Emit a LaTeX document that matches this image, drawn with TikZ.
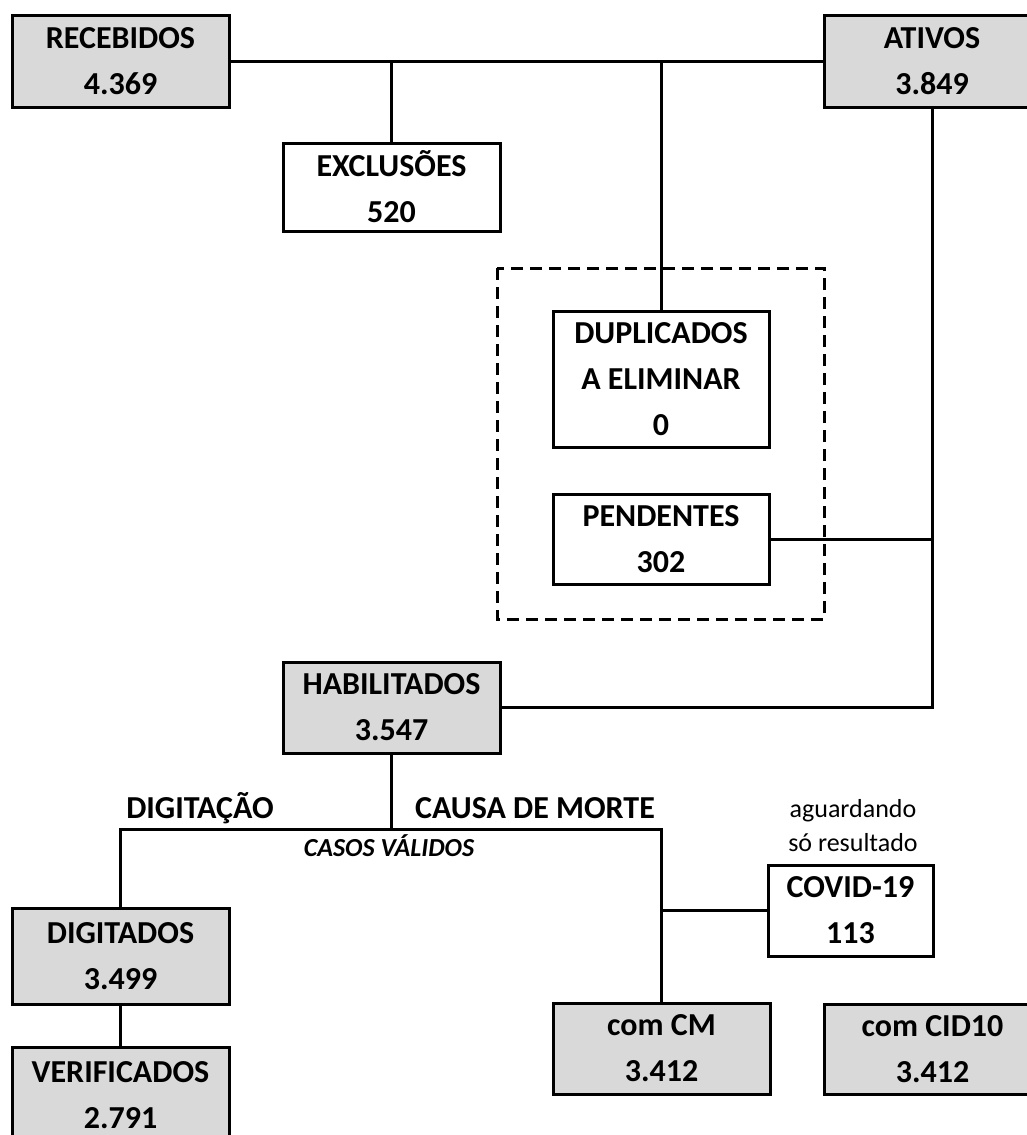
\documentclass[tikz,border=0pt]{standalone}
\usepackage{fontspec}
\setmainfont{Carlito}
\definecolor{boxgray}{HTML}{D9D9D9}
\tikzset{
  box/.style={draw, line width=3pt, inner sep=0pt, align=center,
    font=\bfseries\fontsize{32}{46}\selectfont},
  grey/.style={fill=boxgray},
  conn/.style={line width=3pt},
  lbl/.style={inner sep=0pt, anchor=base, font=\bfseries\fontsize{32}{46}\selectfont},
  note/.style={inner sep=0pt, align=center, font=\fontsize{26}{34}\selectfont},
}
\begin{document}
\begin{tikzpicture}[x=1pt,y=-1pt]
\useasboundingbox (0,0) rectangle (1027,1135);
% boxes
\node[box,grey,minimum width=217pt,minimum height=92pt] (rec) at (120.5,61) {RECEBIDOS\\4.369};
\node[box,grey,minimum width=216pt,minimum height=92pt] (ativ) at (932,61) {ATIVOS\\3.849};
\node[box,minimum width=217pt,minimum height=88pt] (exc) at (391.5,187) {EXCLUSÕES\\520};
\draw[line width=3pt, dash pattern=on 12pt off 7pt] (497,268) rectangle (824,619);
\node[box,minimum width=216pt,minimum height=136pt] (dup) at (661,379) {DUPLICADOS\\A ELIMINAR\\0};
\node[box,minimum width=216pt,minimum height=90pt] (pen) at (661,539) {PENDENTES\\302};
\node[box,grey,minimum width=217pt,minimum height=91pt] (hab) at (391.5,707.5) {HABILITADOS\\3.547};
\node[box,grey,minimum width=217pt,minimum height=96pt] (dig) at (120.5,956) {DIGITADOS\\3.499};
\node[box,grey,minimum width=217pt,minimum height=96pt] (ver) at (120.5,1095) {VERIFICADOS\\2.791};
\node[box,grey,minimum width=217pt,minimum height=91pt] (comcm) at (661.5,1048.5) {com CM\\3.412};
\node[box,minimum width=165pt,minimum height=91pt] (covid) at (850.5,910.5) {COVID-19\\113};
\node[box,grey,minimum width=217pt,minimum height=90pt] (cid) at (932.5,1049) {com CID10\\3.412};
% labels
\node[lbl] (ldig) at (200,818) {DIGITAÇÃO};
\node[lbl] (lcausa) at (535,818) {CAUSA DE MORTE};
\node[lbl,font=\bfseries\itshape\fontsize{26}{34}\selectfont] (lcasos) at (389,856) {CASOS VÁLIDOS};
\node[note] (lagu) at (853,826) {aguardando\\só resultado};
% connectors
\coordinate (split) at (391.5,829);
\draw[conn] (rec.east) -- (ativ.west);
\draw[conn] (exc.north) -- (exc.north |- rec.east);
\draw[conn] (dup.north) -- (dup.north |- rec.east);
\draw[conn] (ativ.south) -- (ativ.south |- hab.east) -- (hab.east);
\draw[conn] (pen.east) -- (pen.east -| ativ.south);
\draw[conn] (hab.south) -- (split);
\draw[conn] (dig.north) |- (split);
\draw[conn] (split) -| (comcm.north);
\draw[conn] (covid.west) -- (covid.west -| comcm.north);
\draw[conn] (dig.south) -- (ver.north);
\end{tikzpicture}
\end{document}
